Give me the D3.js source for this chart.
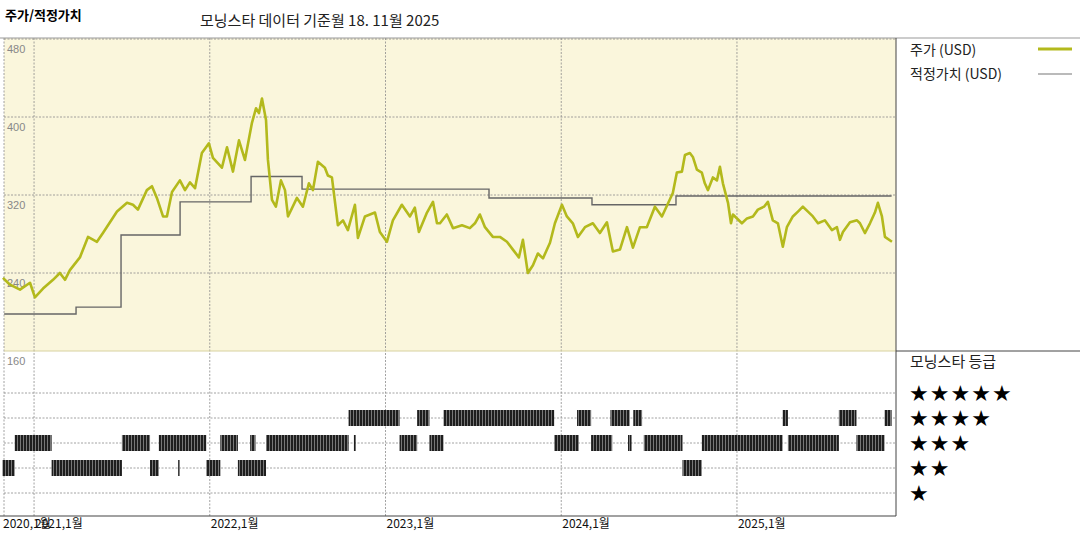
<!DOCTYPE html>
<html>
<head>
<meta charset="utf-8">
<script src="https://cdn.jsdelivr.net/npm/d3@7"></script>
<style>
  body { margin: 0; background: #fff; }
  svg { font-family: "Noto Sans CJK KR", "DejaVu Sans", sans-serif; }
</style>
</head>
<body>
<div id="chart"></div>
<script>
// price (decimal year, USD)
const priceT = [2020.823,2020.863,2020.920,2020.977,2021.005,2021.051,2021.108,2021.147,2021.176,2021.204,
  2021.261,2021.307,2021.358,2021.392,2021.432,2021.472,2021.529,2021.563,2021.591,2021.642,
  2021.671,2021.699,2021.734,2021.756,2021.785,2021.830,2021.859,2021.887,2021.916,2021.955,
  2021.995,2022.018,2022.069,2022.098,2022.132,2022.166,2022.200,2022.240,2022.263,2022.280,
  2022.297,2022.320,2022.331,2022.354,2022.376,2022.405,2022.428,2022.445,2022.496,2022.530,
  2022.564,2022.587,2022.615,2022.655,2022.672,2022.695,2022.729,2022.758,2022.786,2022.826,
  2022.843,2022.883,2022.940,2022.968,2023.008,2023.042,2023.093,2023.139,2023.167,2023.190,
  2023.236,2023.270,2023.293,2023.310,2023.349,2023.384,2023.435,2023.480,2023.509,2023.537,
  2023.566,2023.611,2023.651,2023.691,2023.725,2023.759,2023.782,2023.810,2023.839,2023.867,
  2023.896,2023.936,2023.964,2024.004,2024.032,2024.066,2024.095,2024.135,2024.180,2024.220,
  2024.260,2024.277,2024.294,2024.334,2024.374,2024.408,2024.448,2024.487,2024.533,2024.573,
  2024.635,2024.658,2024.687,2024.704,2024.732,2024.749,2024.772,2024.800,2024.817,2024.835,
  2024.863,2024.886,2024.903,2024.920,2024.949,2024.966,2024.977,2025.028,2025.057,2025.091,
  2025.119,2025.154,2025.176,2025.204,2025.233,2025.261,2025.284,2025.318,2025.347,2025.375,
  2025.404,2025.432,2025.461,2025.500,2025.540,2025.569,2025.586,2025.603,2025.643,2025.683,
  2025.700,2025.728,2025.757,2025.785,2025.802,2025.825,2025.842,2025.882];
const priceV = [235,228,223,230,215,224,233,240,233,243,
  256,277,272,281,292,303,312,310,305,325,
  329,317,298,298,323,335,325,333,327,363,
  373,358,348,369,344,376,356,394,409,404,
  419,397,356,315,308,335,325,298,317,308,
  332,325,354,348,340,338,289,294,284,310,
  276,298,302,282,272,294,310,298,307,282,
  302,313,291,291,300,286,289,286,291,300,
  287,277,277,272,264,256,274,240,248,260,
  255,271,291,310,298,291,277,287,291,281,
  292,277,262,264,287,266,287,287,308,298,
  322,343,344,361,363,359,346,343,332,325,
  338,335,349,332,312,291,300,291,296,298,
  305,308,313,294,291,267,287,298,303,308,
  303,298,291,294,284,287,274,282,292,294,
  291,281,291,302,312,298,277,272];

// fair value steps (start year, USD)
const fairT = [2020.83, 2021.239, 2021.495, 2021.831, 2022.235, 2022.525, 2023.589, 2024.175, 2024.653, 2025.88];
const fairV = [198, 205, 279, 313, 339, 326, 317, 310, 319, 319];

// morningstar rating periods: start, end, stars
const ratingStart = [2020.82,2021.10,2021.66,2021.82,2021.98,2022.16,2024.69,
  2020.89,2021.50,2021.71,2022.06,2022.23,2022.32,2022.82,2023.08,2023.25,2023.96,2024.17,2024.38,2024.47,2024.80,2025.29,2025.68,
  2022.79,2023.18,2023.33,2024.09,2024.28,2024.41,2025.26,2025.58,2025.84];
const ratingEnd = [2020.89,2021.50,2021.71,2021.83,2022.06,2022.32,2024.80,
  2021.10,2021.66,2021.98,2022.16,2022.26,2022.79,2022.83,2023.18,2023.33,2024.10,2024.29,2024.40,2024.69,2025.26,2025.58,2025.84,
  2023.08,2023.25,2023.96,2024.17,2024.39,2024.46,2025.29,2025.68,2025.88];
const ratingStars = [2,2,2,2,2,2,2,
  3,3,3,3,3,3,3,3,3,3,3,3,3,3,3,3,
  4,4,4,4,4,4,4,4,4];

const yTicks = [480, 400, 320, 240];
const yearTicks = [2021, 2022, 2023, 2024, 2025];
const yearLabels = ["2021,1월", "2022,1월", "2023,1월", "2024,1월", "2025,1월"];

const W = 1080, H = 540;
const plotL = 4, plotR = 896, plotT = 38, plotM = 351, plotB = 516;

const svg = d3.select("#chart").append("svg").attr("width", W).attr("height", H);

const x = d3.scaleLinear().domain([2020.829, 2025.905]).range([plotL, plotR]);
const y = d3.scaleLinear().domain([160, 480]).range([plotM, plotT + 1]);
const yr = d3.scaleLinear().domain([5, 1]).range([393, 493]);

// backgrounds
svg.append("rect").attr("x", plotL).attr("y", plotT).attr("width", plotR - plotL).attr("height", plotM - plotT).attr("fill", "#faf6dc");

const grid = "#8a8a8a";
// horizontal gridlines top
svg.append("g").selectAll("line").data(yTicks).join("line")
  .attr("x1", plotL).attr("x2", plotR).attr("y1", d => y(d)).attr("y2", d => y(d))
  .attr("stroke", grid).attr("stroke-dasharray", "2,1.5").attr("stroke-width", 0.8);
// rating gridlines
svg.append("g").selectAll("line").data([5, 4, 3, 2, 1]).join("line")
  .attr("x1", plotL).attr("x2", plotR).attr("y1", d => yr(d)).attr("y2", d => yr(d))
  .attr("stroke", grid).attr("stroke-dasharray", "2,1.5").attr("stroke-width", 0.8);
// vertical gridlines
svg.append("g").selectAll("line").data(yearTicks).join("line")
  .attr("x1", d => x(d)).attr("x2", d => x(d)).attr("y1", plotT).attr("y2", plotB)
  .attr("stroke", grid).attr("stroke-dasharray", "2,1.5").attr("stroke-width", 0.8);
svg.append("line").attr("x1", plotL).attr("x2", plotL).attr("y1", plotT).attr("y2", plotB)
  .attr("stroke", grid).attr("stroke-dasharray", "2,1.5").attr("stroke-width", 0.8);

// y labels
svg.append("g").selectAll("text").data(yTicks.concat([160])).join("text")
  .attr("x", 7).attr("y", d => y(d) + 14).attr("font-size", 11).attr("fill", "#888")
  .attr("font-family", "Liberation Sans, sans-serif").text(d => d);

// fair value
const fairData = fairT.map((t, i) => [t, fairV[i]]);
svg.append("path").datum(fairData)
  .attr("d", d3.line().x(d => x(d[0])).y(d => y(d[1])).curve(d3.curveStepAfter))
  .attr("fill", "none").attr("stroke", "#666").attr("stroke-width", 1.4);

// price
const priceData = priceT.map((t, i) => [t, priceV[i]]);
svg.append("path").datum(priceData)
  .attr("d", d3.line().x(d => x(d[0])).y(d => y(d[1])))
  .attr("fill", "none").attr("stroke", "#b3b91c").attr("stroke-width", 2.6).attr("stroke-linejoin", "round");

// rating bars with striped pattern
const defs = svg.append("defs");
const pat = defs.append("pattern").attr("id", "stripes").attr("patternUnits", "userSpaceOnUse")
  .attr("width", 3).attr("height", 20);
pat.append("rect").attr("width", 3).attr("height", 20).attr("fill", "#777");
pat.append("rect").attr("width", 2).attr("height", 20).attr("fill", "#1e1e1e");

svg.append("g").selectAll("rect").data(ratingStart.map((s, i) => ({ s, e: ratingEnd[i], r: ratingStars[i] })))
  .join("rect")
  .attr("x", d => x(d.s)).attr("width", d => Math.max(1.5, x(d.e) - x(d.s)))
  .attr("y", d => yr(d.r) - 8).attr("height", 16).attr("fill", "url(#stripes)");

// frame lines
svg.append("line").attr("x1", 0).attr("x2", W).attr("y1", plotT).attr("y2", plotT).attr("stroke", "#999").attr("stroke-width", 1);
svg.append("line").attr("x1", plotL).attr("x2", plotR).attr("y1", plotM).attr("y2", plotM).attr("stroke", "#d8d2a0").attr("stroke-width", 1);
svg.append("line").attr("x1", plotR).attr("x2", W).attr("y1", plotM).attr("y2", plotM).attr("stroke", "#444").attr("stroke-width", 1);
svg.append("line").attr("x1", plotR).attr("x2", plotR).attr("y1", plotT).attr("y2", plotB).attr("stroke", "#444").attr("stroke-width", 1);
svg.append("line").attr("x1", 0).attr("x2", plotR).attr("y1", plotB).attr("y2", plotB).attr("stroke", "#444").attr("stroke-width", 1.2);

// x labels
svg.append("g").selectAll("text").data(["2020,1월"].concat(yearLabels)).join("text")
  .attr("x", (d, i) => i === 0 ? 3 : x(yearTicks[i - 1]) + 1).attr("y", 528)
  .attr("font-size", 12).attr("fill", "#111").text(d => d);

// titles
svg.append("text").attr("x", 5).attr("y", 20).attr("font-size", 13).attr("font-weight", "bold").text("주가/적정가치");
svg.append("text").attr("x", 200).attr("y", 26).attr("font-size", 15).attr("fill", "#222").text("모닝스타 데이터 기준월 18. 11월 2025");

// legend
svg.append("text").attr("x", 910).attr("y", 55).attr("font-size", 14).attr("fill", "#222").text("주가 (USD)");
svg.append("line").attr("x1", 1038).attr("x2", 1072).attr("y1", 49).attr("y2", 49).attr("stroke", "#b3b91c").attr("stroke-width", 3);
svg.append("text").attr("x", 910).attr("y", 79).attr("font-size", 14).attr("fill", "#222").text("적정가치 (USD)");
svg.append("line").attr("x1", 1038).attr("x2", 1072).attr("y1", 74).attr("y2", 74).attr("stroke", "#777").attr("stroke-width", 1.2);

svg.append("text").attr("x", 910).attr("y", 367).attr("font-size", 15).attr("fill", "#222").text("모닝스타 등급");
svg.append("g").selectAll("text").data([5, 4, 3, 2, 1]).join("text")
  .attr("x", 909).attr("y", d => yr(d) + 8).attr("font-size", 22).attr("font-family", "DejaVu Sans")
  .attr("letter-spacing", 1).text(d => "★".repeat(d));
</script>
</body>
</html>
